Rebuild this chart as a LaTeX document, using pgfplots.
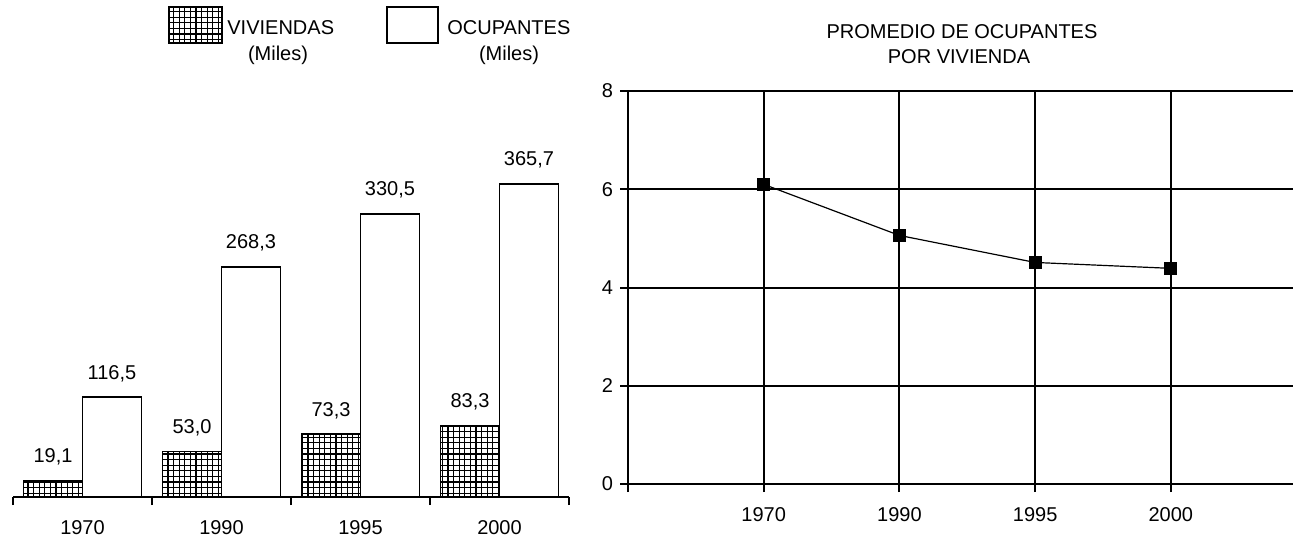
\documentclass[border=0pt]{standalone}
\usepackage{fontspec}
\setmainfont{Liberation Sans}
\usepackage{pgfplots}
\pgfplotsset{compat=1.18}
\usetikzlibrary{patterns}
\pgfdeclarepatternformonly{mygrid}{\pgfqpoint{-0.5pt}{-0.5pt}}{\pgfqpoint{3.3pt}{3.3pt}}{\pgfqpoint{2.8pt}{2.8pt}}{%
  \pgfsetlinewidth{0.6pt}%
  \pgfpathmoveto{\pgfqpoint{0pt}{-0.5pt}}\pgfpathlineto{\pgfqpoint{0pt}{3.3pt}}%
  \pgfpathmoveto{\pgfqpoint{-0.5pt}{0pt}}\pgfpathlineto{\pgfqpoint{3.3pt}{0pt}}%
  \pgfusepath{stroke}}
\begin{document}
\fontsize{10pt}{12pt}\selectfont
\begin{tikzpicture}[x=1pt,y=1pt]
% ---------- left: bar chart ----------
\begin{axis}[
  at={(6.5pt,20.5pt)}, anchor=south west,
  scale only axis, width=278pt, height=171.4pt,
  xmin=-0.5, xmax=3.5, ymin=0, ymax=400,
  axis x line=bottom, axis y line=none,
  axis line style={-, line width=1pt},
  ybar=0pt, bar width=29.5pt,
  xtick={0,1,2,3}, xticklabels={1970,1990,1995,2000},
  major tick length=0pt,
  minor xtick={-0.5,0.5,1.5,2.5,3.5}, minor tick length=4pt,
  tick align=outside, tick style={black, line width=1pt},
  xticklabel style={yshift=-8.2pt},
  nodes near coords,
  every node near coord/.append style={yshift=4pt, black},
  clip=false,
  /pgf/number format/.cd, use comma, fixed, fixed zerofill, precision=1, assume math mode=true
]
\addplot[draw=black, line width=0.9pt, pattern=mygrid] coordinates {(0,19.1) (1,53.0) (2,73.3) (3,83.3)};
\addplot[draw=black, fill=white, line width=0.9pt] coordinates {(0,116.5) (1,268.3) (2,330.5) (3,365.7)};
\end{axis}
% ---------- right: line chart ----------
\begin{axis}[
  at={(314pt,27pt)}, anchor=south west,
  scale only axis, width=332.5pt, height=196.5pt,
  xmin=0, xmax=4.9, ymin=0, ymax=8,
  axis x line=bottom, axis y line=left,
  axis line style={-, line width=1pt},
  xtick={0,1,2,3,4}, xticklabels={,1970,1990,1995,2000},
  ytick={0,2,4,6,8},
  grid=major, grid style={black, line width=1pt},
  tick align=outside, major tick length=4pt,
  tick style={black, line width=1pt},
  xticklabel style={yshift=-4.2pt},
  /pgf/number format/assume math mode=true
]
\addplot[black, line width=0.6pt, mark=square*, mark size=3pt, mark options={solid, fill=black}] coordinates {(1,6.10) (2,5.06) (3,4.51) (4,4.39)};
\end{axis}
% ---------- legend and title ----------
\draw[line width=0.9pt, pattern=mygrid] (84.5pt,247.5pt) rectangle (111pt,265.5pt);
\node[anchor=west, inner sep=0pt] at (113.5pt,255pt) {VIVIENDAS};
\node[inner sep=0pt] at (139pt,241.5pt) {(Miles)};
\draw[line width=0.9pt, fill=white] (193.5pt,247.5pt) rectangle (219pt,265.5pt);
\node[anchor=west, inner sep=0pt] at (223.5pt,255pt) {OCUPANTES};
\node[inner sep=0pt] at (254.5pt,241.5pt) {(Miles)};
\node[inner sep=0pt] at (481pt,253pt) {PROMEDIO DE OCUPANTES};
\node[inner sep=0pt] at (479.5pt,240.5pt) {POR VIVIENDA};
\pgfresetboundingbox
\useasboundingbox (0,0) rectangle (646.5pt,269pt);
\end{tikzpicture}
\end{document}
